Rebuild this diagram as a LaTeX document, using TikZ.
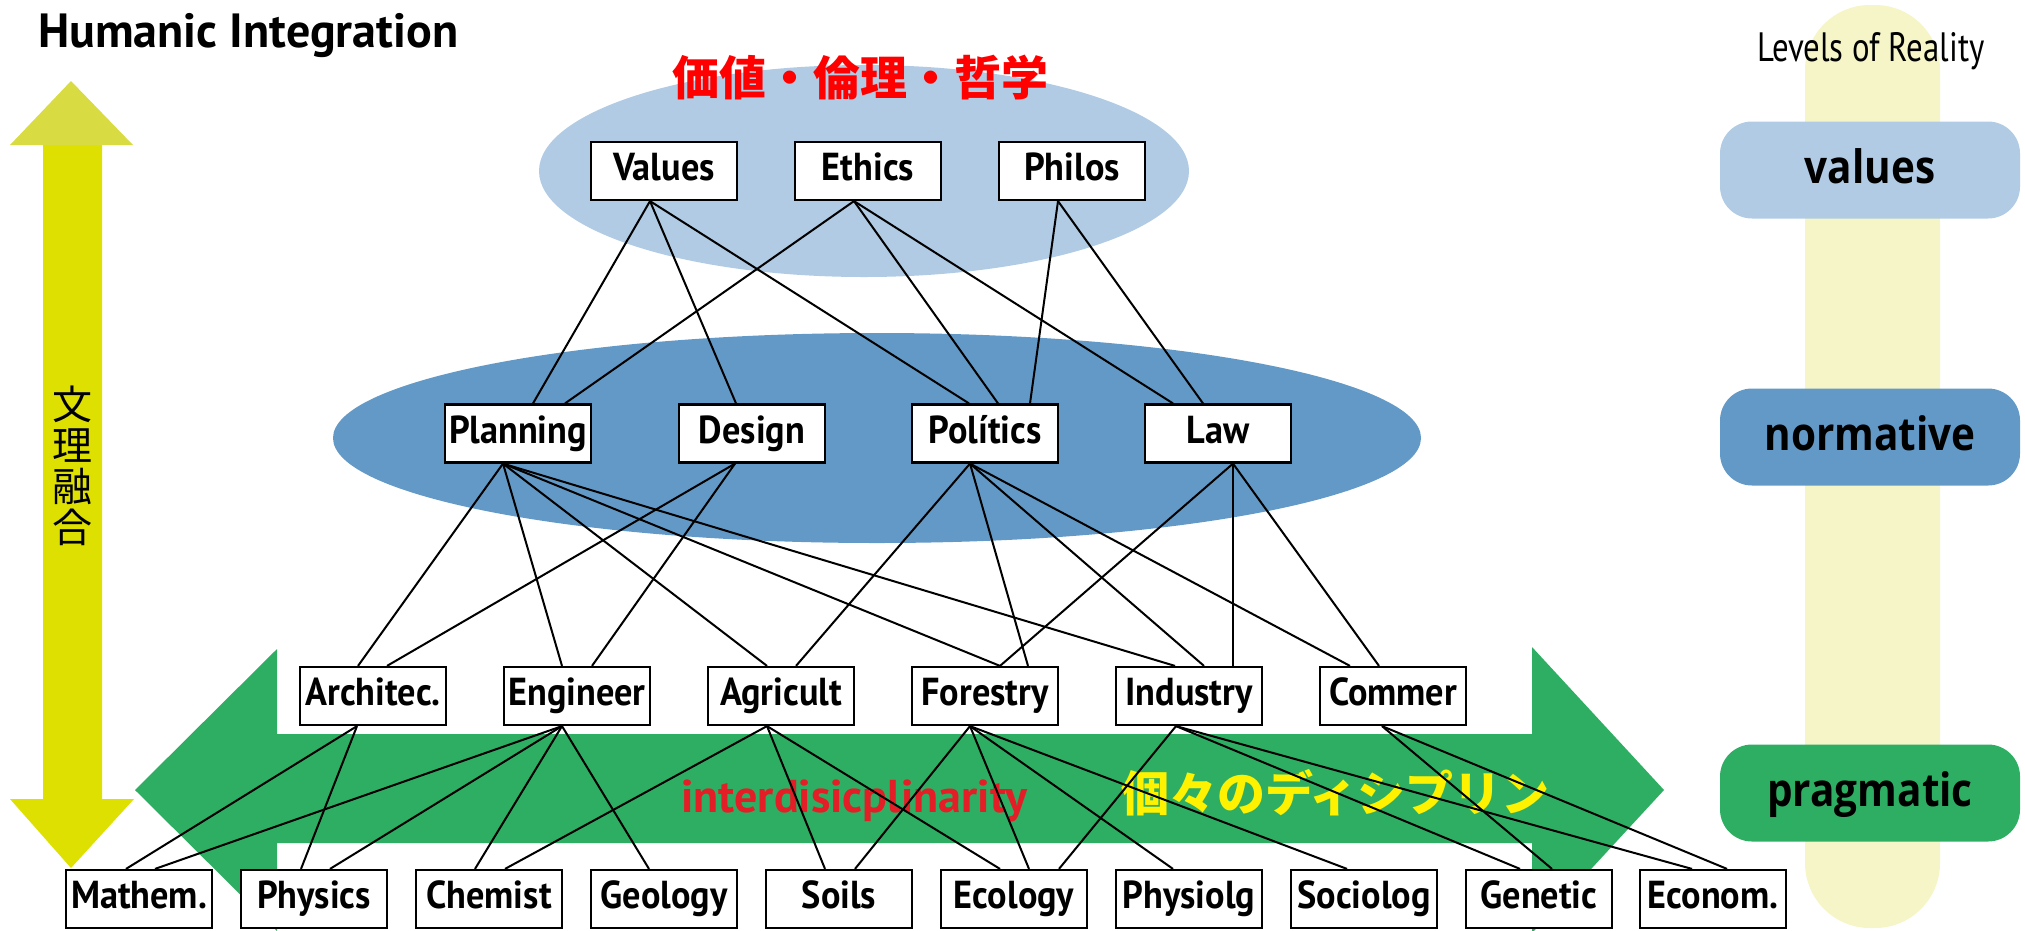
\documentclass[tikz,border=0pt]{standalone}
\usepackage{fontspec}
\setmainfont{PT Sans}
\newfontfamily\labfont[FakeStretch=0.93]{PT Sans}
\newfontfamily\levfont[FakeStretch=0.8]{PT Sans}
\newfontfamily\lvlfont[FakeStretch=0.88]{Open Sans}
\newfontfamily\cjk{Noto Sans CJK JP}
\definecolor{lblue}{RGB}{176,203,227}
\definecolor{mblue}{RGB}{99,153,198}
\definecolor{agreen}{RGB}{46,174,98}
\definecolor{ayellow}{RGB}{221,224,0}
\definecolor{ayellowtop}{RGB}{216,219,66}
\definecolor{paleyel}{RGB}{245,245,199}
\definecolor{ired}{RGB}{228,30,38}
\newcommand\conn[4]{\draw[edge] ([xshift=#2pt]#1.south) -- ([xshift=#4pt]#3.north);}
\begin{document}
\begin{tikzpicture}[x=1pt,y=-1pt,
  box/.style={draw=black,line width=2.2pt,fill=white,minimum width=146pt,minimum height=58pt,inner sep=0pt,
    font=\labfont\bfseries\fontsize{39}{39}\selectfont,text height=28pt,text depth=9pt},
  edge/.style={draw=black,line width=2pt},
  lvl/.style={rounded corners=32pt,minimum width=300pt,minimum height=97pt,inner sep=0pt,
    font=\lvlfont\bfseries\fontsize{46}{46}\selectfont,text height=26pt,text depth=0pt}]
\useasboundingbox (0,0) rectangle (2025,930);
% title
\node[anchor=base west,inner sep=0pt,font=\bfseries\fontsize{48}{48}\selectfont] (title) at (38,47) {Humanic Integration};
% right column
\fill[paleyel,rounded corners=65pt] (1805,5) rectangle (1940,928);
\node[anchor=base west,inner sep=0pt,font=\levfont\fontsize{41}{41}\selectfont] (levels) at (1757,61) {Levels of Reality};
\node[lvl,fill=lblue] (lv1) at (1870,170) {values};
\node[lvl,fill=mblue] (lv2) at (1870,437) {normative};
\node[lvl,fill=agreen] (lv3) at (1870,793) {pragmatic};
% yellow vertical arrow
\fill[ayellow] (43,143) -- (102,143) -- (102,799) -- (134,799) -- (71,868) -- (10,799) -- (43,799) -- cycle;
\fill[ayellowtop] (71,81) -- (133,145) -- (10,145) -- cycle;
\node[font=\cjk\fontsize{40}{41}\selectfont,align=center,inner sep=0pt] (bunri) at (72,466) {文\\理\\融\\合};
% ellipses
\fill[lblue] (864,171) ellipse [x radius=325pt,y radius=106pt];
\fill[mblue] (877,438) ellipse [x radius=544pt,y radius=105pt];
\node[text=red,font=\cjk\bfseries\fontsize{47}{47}\selectfont,inner sep=0pt] (kachi) at (860,78) {価値・倫理・哲学};
% green double arrow
\fill[agreen] (135,790) -- (277,649) -- (277,734) -- (1532,734) -- (1532,647) -- (1664,790)
  -- (1532,933) -- (1532,843) -- (277,843) -- (277,931) -- cycle;
\node[anchor=base west,inner sep=0pt,text=ired,font=\bfseries\fontsize{46}{46}\selectfont] (inter) at (681,812) {interdisicplinarity};
\node[anchor=west,inner sep=0pt,text=yellow,font=\cjk\bfseries\fontsize{48}{48}\selectfont] (kojin) at (1121,793) {個々のディシプリン};
% boxes
\node[box] (values) at (664,171) {Values};
\node[box] (ethics) at (868,171) {Ethics};
\node[box] (philos) at (1072,171) {Philos};
\node[box] (planning) at (518,433.5) {Planning};
\node[box] (design) at (752,433.5) {Design};
\node[box] (politics) at (985,433.5) {Polítics};
\node[box] (law) at (1218,433.5) {Law};
\node[box] (archi) at (373,696) {Architec.};
\node[box] (engin) at (577,696) {Engineer};
\node[box] (agri) at (781,696) {Agricult};
\node[box] (forest) at (985,696) {Forestry};
\node[box] (indus) at (1189,696) {Industry};
\node[box] (commer) at (1393,696) {Commer};
\node[box] (math) at (139,899) {Mathem.};
\node[box] (phys) at (314,899) {Physics};
\node[box] (chem) at (489,899) {Chemist};
\node[box] (geol) at (664,899) {Geology};
\node[box] (soils) at (839,899) {Soils};
\node[box] (ecol) at (1014,899) {Ecology};
\node[box] (physio) at (1189,899) {Physiolg};
\node[box] (socio) at (1364,899) {Sociolog};
\node[box] (genet) at (1539,899) {Genetic};
\node[box] (econ) at (1713,899) {Econom.};
% top -> middle
\conn{values}{-14}{planning}{15}
\conn{values}{-14}{design}{-16}
\conn{values}{-14}{politics}{-16}
\conn{ethics}{-14}{planning}{47}
\conn{ethics}{-14}{politics}{13}
\conn{ethics}{-14}{law}{-45}
\conn{philos}{-14}{politics}{45}
\conn{philos}{-14}{law}{-15}
% middle -> pragmatic
\conn{planning}{-15}{archi}{-15}
\conn{planning}{-15}{engin}{-15}
\conn{planning}{-15}{agri}{-14}
\conn{planning}{-15}{forest}{15}
\conn{planning}{-15}{indus}{-14}
\conn{design}{-17}{archi}{14}
\conn{design}{-17}{engin}{15}
\conn{politics}{-15}{agri}{15}
\conn{politics}{-15}{forest}{43}
\conn{politics}{-15}{indus}{15}
\conn{politics}{-15}{commer}{-43}
\conn{law}{15}{forest}{15}
\conn{law}{15}{indus}{44}
\conn{law}{15}{commer}{-14}
% pragmatic -> bottom
\conn{archi}{-16}{math}{-13}
\conn{archi}{-16}{phys}{-13}
\conn{engin}{-15}{math}{16}
\conn{engin}{-15}{phys}{16}
\conn{engin}{-15}{chem}{-14}
\conn{engin}{-15}{geol}{-15}
\conn{agri}{-14}{chem}{16}
\conn{agri}{-14}{soils}{-14}
\conn{agri}{-14}{ecol}{-14}
\conn{forest}{-15}{soils}{16}
\conn{forest}{-15}{ecol}{15}
\conn{forest}{-15}{physio}{-16}
\conn{forest}{-15}{socio}{-17}
\conn{indus}{-13}{ecol}{45}
\conn{indus}{-13}{genet}{-19}
\conn{indus}{-13}{econ}{-21}
\conn{commer}{-11}{genet}{13}
\conn{commer}{-11}{econ}{14}
\end{tikzpicture}
\end{document}
